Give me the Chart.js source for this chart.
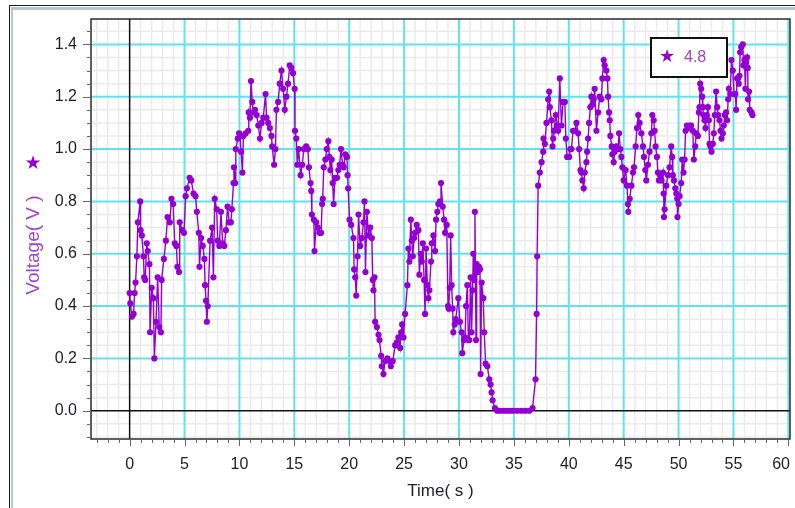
<!DOCTYPE html>
<html>
<head>
<meta charset="utf-8">
<title>Voltage vs Time</title>
<script src="https://cdn.jsdelivr.net/npm/chart.js@4.4.1/dist/chart.umd.min.js"></script>
<style>
  html, body { margin: 0; padding: 0; background: #fff; }
  canvas { display: block; }
</style>
</head>
<body>
<canvas id="voltage-graph" width="795" height="508"></canvas>
<script>

// sample times (s)
const timeSeconds = [
  0.00, 0.06, 0.21, 0.36, 0.45, 0.54, 0.66, 0.75, 0.96, 1.00,
  1.11, 1.26, 1.32, 1.41, 1.56, 1.65, 1.80, 1.86, 2.01, 2.16,
  2.25, 2.40, 2.55, 2.70, 2.85, 2.91, 3.12, 3.30, 3.45, 3.66,
  3.81, 3.96, 4.11, 4.26, 4.35, 4.50, 4.56, 4.80, 4.95, 5.10,
  5.22, 5.46, 5.61, 5.82, 6.00, 6.12, 6.30, 6.36, 6.51, 6.66,
  6.81, 6.87, 6.96, 7.03, 7.12, 7.33, 7.51, 7.63, 7.75, 7.93,
  8.02, 8.17, 8.32, 8.47, 8.62, 8.77, 8.92, 9.07, 9.22, 9.31,
  9.46, 9.50, 9.61, 9.67, 9.85, 9.97, 10.06, 10.15, 10.27, 10.36,
  10.57, 10.81, 10.85, 10.96, 11.05, 11.17, 11.27, 11.42, 11.57, 11.72,
  11.87, 12.02, 12.17, 12.38, 12.47, 12.62, 12.77, 12.92, 12.98, 13.16,
  13.28, 13.37, 13.52, 13.67, 13.83, 13.98, 14.13, 14.28, 14.43, 14.58,
  14.73, 14.88, 15.03, 15.06, 15.18, 15.27, 15.39, 15.57, 15.72, 15.87,
  16.08, 16.23, 16.33, 16.48, 16.54, 16.60, 16.78, 16.84, 16.99, 17.14,
  17.29, 17.44, 17.53, 17.59, 17.68, 17.83, 17.95, 18.10, 18.19, 18.28,
  18.40, 18.49, 18.58, 18.70, 18.89, 19.01, 19.13, 19.25, 19.40, 19.49,
  19.64, 19.79, 19.85, 19.90, 20.03, 20.18, 20.39, 20.45, 20.55, 20.64,
  20.76, 20.85, 21.00, 21.15, 21.30, 21.39, 21.48, 21.61, 21.76, 21.91,
  22.06, 22.15, 22.21, 22.30, 22.36, 22.52, 22.67, 22.76, 22.91, 22.97,
  23.12, 23.27, 23.48, 23.67, 23.79, 23.97, 24.18, 24.33, 24.48, 24.64,
  24.73, 24.82, 24.94, 25.09, 25.30, 25.39, 25.48, 25.61, 25.70, 25.79,
  25.91, 26.00, 26.15, 26.30, 26.39, 26.52, 26.61, 26.70, 26.82, 26.91,
  27.00, 27.12, 27.21, 27.30, 27.45, 27.52, 27.67, 27.82, 27.91, 28.03,
  28.12, 28.27, 28.36, 28.52, 28.64, 28.73, 28.88, 29.00, 29.06, 29.15,
  29.24, 29.33, 29.42, 29.48, 29.61, 29.70, 29.94, 30.09, 30.24, 30.30,
  30.45, 30.55, 30.64, 30.76, 30.85, 30.94, 31.06, 31.15, 31.24, 31.30,
  31.39, 31.45, 31.55, 31.61, 31.70, 31.82, 31.91, 31.97, 32.06, 32.21,
  32.30, 32.42, 32.58, 32.76, 32.88, 32.97, 33.06, 33.27, 33.48, 33.73,
  34.03, 34.33, 34.64, 34.94, 35.30, 35.67, 36.03, 36.40, 36.70, 36.97,
  37.07, 37.12, 37.21, 37.36, 37.52, 37.67, 37.70, 37.82, 37.97, 38.12,
  38.21, 38.27, 38.42, 38.52, 38.58, 38.64, 38.82, 38.94, 39.03, 39.18,
  39.33, 39.48, 39.64, 39.73, 39.85, 40.03, 40.15, 40.24, 40.39, 40.55,
  40.70, 40.85, 40.94, 41.06, 41.15, 41.24, 41.36, 41.45, 41.61, 41.67,
  41.76, 41.85, 41.97, 42.06, 42.15, 42.27, 42.36, 42.52, 42.67, 42.82,
  42.97, 43.06, 43.18, 43.27, 43.42, 43.52, 43.58, 43.67, 43.73, 43.79,
  43.91, 43.97, 44.09, 44.18, 44.33, 44.48, 44.58, 44.70, 44.79, 44.88,
  45.00, 45.18, 45.30, 45.39, 45.42, 45.55, 45.70, 45.85, 45.94, 46.09,
  46.21, 46.33, 46.45, 46.61, 46.76, 46.85, 46.97, 47.06, 47.21, 47.36,
  47.52, 47.61, 47.73, 47.82, 47.91, 48.03, 48.12, 48.21, 48.33, 48.45,
  48.58, 48.64, 48.67, 48.73, 48.88, 49.03, 49.18, 49.33, 49.42, 49.48,
  49.58, 49.70, 49.79, 49.88, 49.90, 50.00, 50.09, 50.24, 50.33, 50.45,
  50.55, 50.64, 50.76, 50.91, 51.00, 51.15, 51.30, 51.39, 51.52, 51.61,
  51.76, 51.85, 51.91, 51.97, 52.06, 52.15, 52.21, 52.27, 52.36, 52.45,
  52.58, 52.67, 52.76, 52.82, 52.91, 53.00, 53.12, 53.21, 53.30, 53.42,
  53.52, 53.61, 53.73, 53.82, 53.91, 54.03, 54.12, 54.21, 54.33, 54.42,
  54.52, 54.58, 54.70, 54.82, 54.94, 55.06, 55.18, 55.24, 55.33, 55.42,
  55.48, 55.55, 55.61, 55.70, 55.85, 55.91, 56.00, 56.09, 56.15, 56.24,
  56.30, 56.33, 56.42, 56.48, 56.64, 56.73
];

// voltage (V) at each sample
const voltageVolts = [
  0.45, 0.41, 0.36, 0.37, 0.45, 0.49, 0.59, 0.72, 0.80, 0.69,
  0.67, 0.59, 0.51, 0.50, 0.64, 0.61, 0.56, 0.30, 0.47, 0.43,
  0.20, 0.34, 0.51, 0.32, 0.30, 0.50, 0.58, 0.65, 0.74, 0.72,
  0.81, 0.79, 0.64, 0.63, 0.55, 0.53, 0.72, 0.69, 0.68, 0.82,
  0.85, 0.89, 0.88, 0.83, 0.82, 0.76, 0.68, 0.55, 0.66, 0.63,
  0.58, 0.48, 0.42, 0.34, 0.40, 0.65, 0.70, 0.51, 0.81, 0.77,
  0.65, 0.63, 0.76, 0.64, 0.63, 0.69, 0.78, 0.72, 0.72, 0.77,
  0.87, 0.93, 0.87, 1.00, 1.04, 1.06, 1.05, 0.99, 0.91, 1.05,
  1.06, 1.07, 1.14, 1.12, 1.26, 1.18, 1.14, 1.15, 1.13, 1.09,
  1.04, 1.10, 1.12, 1.21, 1.12, 1.10, 1.08, 1.05, 1.01, 0.94,
  1.00, 1.15, 1.18, 1.25, 1.30, 1.23, 1.15, 1.20, 1.25, 1.32,
  1.31, 1.29, 1.23, 1.07, 1.04, 0.94, 1.00, 0.90, 0.94, 1.00,
  1.01, 1.00, 0.93, 0.87, 0.84, 0.75, 0.73, 0.61, 0.72, 0.70,
  0.68, 0.68, 0.79, 0.81, 0.93, 0.96, 1.00, 1.03, 0.97, 0.92,
  0.96, 0.87, 0.79, 0.89, 0.89, 0.92, 0.94, 1.00, 0.94, 0.93,
  0.98, 0.97, 0.90, 0.85, 0.73, 0.71, 0.66, 0.54, 0.51, 0.44,
  0.59, 0.75, 0.63, 0.66, 0.72, 0.80, 0.53, 0.76, 0.67, 0.70,
  0.66, 0.50, 0.46, 0.51, 0.34, 0.32, 0.29, 0.27, 0.21, 0.17,
  0.14, 0.19, 0.20, 0.19, 0.17, 0.19, 0.25, 0.26, 0.28, 0.24,
  0.30, 0.33, 0.28, 0.37, 0.48, 0.62, 0.57, 0.73, 0.65, 0.59,
  0.66, 0.68, 0.71, 0.69, 0.52, 0.60, 0.57, 0.64, 0.50, 0.37,
  0.62, 0.48, 0.43, 0.46, 0.57, 0.64, 0.67, 0.61, 0.73, 0.76,
  0.79, 0.80, 0.87, 0.78, 0.73, 0.68, 0.71, 0.40, 0.39, 0.47,
  0.67, 0.48, 0.39, 0.30, 0.33, 0.35, 0.43, 0.34, 0.30, 0.22,
  0.27, 0.28, 0.40, 0.48, 0.27, 0.27, 0.51, 0.30, 0.46, 0.60,
  0.50, 0.76, 0.27, 0.56, 0.53, 0.55, 0.54, 0.14, 0.49, 0.43,
  0.30, 0.18, 0.17, 0.12, 0.10, 0.07, 0.04, 0.01, 0.00, 0.00,
  0.00, 0.00, 0.00, 0.00, 0.00, 0.00, 0.00, 0.00, 0.01, 0.12,
  0.37, 0.59, 0.86, 0.91, 0.95, 0.99, 1.04, 1.02, 1.10, 1.19,
  1.22, 1.16, 1.11, 1.01, 1.04, 1.07, 1.13, 1.09, 1.07, 1.27,
  1.09, 1.18, 1.18, 1.04, 0.97, 0.97, 1.00, 1.00, 1.07, 1.07,
  1.10, 1.06, 1.00, 0.92, 0.91, 0.88, 0.85, 0.91, 0.95, 0.99,
  1.04, 1.10, 1.16, 1.20, 1.17, 1.19, 1.23, 1.07, 1.14, 1.20,
  1.19, 1.27, 1.34, 1.32, 1.30, 1.27, 1.20, 1.14, 1.11, 1.05,
  1.01, 0.98, 0.95, 0.99, 1.01, 1.00, 1.06, 1.00, 0.97, 0.93,
  0.88, 0.92, 0.86, 0.79, 0.76, 0.81, 0.86, 0.91, 0.93, 1.01,
  1.08, 1.13, 1.10, 1.06, 1.01, 0.97, 0.92, 0.88, 0.94, 0.99,
  1.06, 1.13, 1.11, 1.07, 1.01, 0.97, 0.91, 0.88, 0.90, 0.88,
  0.91, 0.83, 0.74, 0.77, 0.86, 0.90, 0.93, 1.01, 0.97, 0.90,
  0.88, 0.85, 0.83, 0.81, 0.74, 0.79, 0.82, 0.87, 0.96, 0.91,
  0.96, 1.07, 1.09, 1.08, 1.09, 1.09, 1.07, 0.96, 1.01, 1.06,
  1.05, 1.14, 1.16, 1.25, 1.23, 1.20, 1.16, 1.13, 1.11, 1.08,
  1.13, 1.16, 1.11, 1.02, 1.01, 0.99, 1.02, 1.06, 1.13, 1.22,
  1.16, 1.13, 1.11, 1.07, 1.04, 1.06, 1.09, 1.13, 1.14, 1.11,
  1.19, 1.23, 1.21, 1.34, 1.30, 1.21, 1.21, 1.15, 1.27, 1.27,
  1.25, 1.28, 1.37, 1.39, 1.40, 1.32, 1.34, 1.23, 1.33, 1.35,
  1.31, 1.19, 1.22, 1.15, 1.14, 1.13
];

const seriesLabel = '4.8';
const xTitle = 'Time( s )';
const yTitle = 'Voltage( V )';
const xRange = [-3.52, 60.15];
const yRange = [-0.108, 1.497];

const purple = '#9400d3';
const titlePurple = '#a13fd6';
const cyan = '#62e3ec';
const minorGrey = '#ebebeb';
const labelInk = '#1c1c2a';
const sans = '"Liberation Sans", Arial, sans-serif';

const isZero = v => Math.abs(v) < 1e-9;
const isMajorX = v => Math.round(v) % 5 === 0;
const isMajorY = v => Math.round(v * 100) % 20 === 0;

const points = timeSeconds.map((t, i) => ({ x: t, y: voltageVolts[i] }));


const decor = {
  id: 'decor',

  beforeDraw(chart) {
    const ctx = chart.ctx;
    ctx.save();
    ctx.fillStyle = '#fff';
    ctx.fillRect(0, 0, chart.width, chart.height);
    // window edge, left and top
    ctx.fillStyle = '#1a1a1a';
    ctx.fillRect(9, 5, 1, chart.height - 5);
    ctx.fillRect(9, 5, chart.width - 9, 1);
    ctx.fillStyle = '#b9c4cf';
    ctx.fillRect(11, 7, 2, chart.height - 7);
    ctx.fillRect(11, 7, chart.width - 11, 3);
    ctx.restore();
  },

  beforeDatasetsDraw(chart) {
    const { ctx, chartArea: a, scales: { x, y } } = chart;
    ctx.save();
    ctx.beginPath();
    ctx.rect(a.left, a.top, a.right - a.left, a.bottom - a.top);
    ctx.clip();

    const vLine = (v, colour, w) => {
      const px = x.getPixelForValue(v);
      ctx.strokeStyle = colour; ctx.lineWidth = w;
      ctx.beginPath(); ctx.moveTo(px, a.top); ctx.lineTo(px, a.bottom); ctx.stroke();
    };
    const hLine = (v, colour, w) => {
      const py = y.getPixelForValue(v);
      ctx.strokeStyle = colour; ctx.lineWidth = w;
      ctx.beginPath(); ctx.moveTo(a.left, py); ctx.lineTo(a.right, py); ctx.stroke();
    };

    // minor grid, then cyan major grid, then the zero axes
    x.ticks.forEach(t => { if (!isMajorX(t.value)) vLine(t.value, minorGrey, 1.5); });
    y.ticks.forEach(t => { if (!isMajorY(t.value)) hLine(t.value, minorGrey, 1.5); });
    x.ticks.forEach(t => { if (isMajorX(t.value) && !isZero(t.value)) vLine(t.value, cyan, 2); });
    y.ticks.forEach(t => { if (isMajorY(t.value) && !isZero(t.value)) hLine(t.value, cyan, 2); });
    vLine(0, '#111', 1.5);
    hLine(0, '#111', 1.5);
    ctx.restore();
  },

  afterDraw(chart) {
    const { ctx, chartArea: a, scales: { x, y } } = chart;
    ctx.save();

    // plot frame
    ctx.strokeStyle = '#2b2b2b';
    ctx.lineWidth = 1.5;
    ctx.strokeRect(a.left, a.top, a.right - a.left, a.bottom - a.top);

    // tick marks
    ctx.strokeStyle = '#666';
    ctx.lineWidth = 1;
    ctx.beginPath();
    y.ticks.forEach(t => {
      const py = Math.round(y.getPixelForValue(t.value)) + 0.5;
      const len = isMajorY(t.value) ? 8 : 4;
      ctx.moveTo(a.left - len, py); ctx.lineTo(a.left, py);
    });
    x.ticks.forEach(t => {
      const px = Math.round(x.getPixelForValue(t.value)) + 0.5;
      const len = isMajorX(t.value) ? 7 : 4;
      ctx.moveTo(px, a.bottom); ctx.lineTo(px, a.bottom + len);
    });
    ctx.stroke();

    // x tick labels, last one kept inside the frame
    ctx.font = '16px ' + sans;
    ctx.fillStyle = labelInk;
    ctx.textAlign = 'center';
    ctx.textBaseline = 'middle';
    x.ticks.forEach(t => {
      if (!t.label) return;
      const w = ctx.measureText(t.label).width;
      const px = Math.min(x.getPixelForValue(t.value), a.right - w / 2);
      ctx.fillText(t.label, px, 465);
    });

    // axis titles
    ctx.font = '17px ' + sans;
    ctx.fillText(xTitle, (a.left + a.right) / 2, 491);

    ctx.save();
    ctx.translate(34, 245);
    ctx.rotate(-Math.PI / 2);
    ctx.font = '19px ' + sans;
    ctx.fillStyle = titlePurple;
    ctx.fillText(yTitle, 0, 0);
    ctx.restore();

    ctx.font = '19px "DejaVu Sans", sans-serif';
    ctx.fillStyle = purple;
    ctx.fillText('\u2605', 33, 164);

    // legend box
    ctx.fillStyle = '#fff';
    ctx.fillRect(651, 38, 76, 39);
    ctx.strokeStyle = '#111';
    ctx.lineWidth = 2;
    ctx.strokeRect(651, 38, 76, 39);
    ctx.fillStyle = purple;
    ctx.font = '18px "DejaVu Sans", sans-serif';
    ctx.fillText('\u2605', 667, 57);
    ctx.textAlign = 'left';
    ctx.font = '16px ' + sans;
    ctx.fillStyle = titlePurple;
    ctx.fillText(chart.data.datasets[0].label, 684, 58);

    ctx.restore();
  }
};


const voltageChart = new Chart(document.querySelector('#voltage-graph'), {
  type: 'line',
  data: {
    datasets: [{
      label: seriesLabel,
      data: points,
      borderColor: purple,
      backgroundColor: purple,
      borderWidth: 1.4,
      pointRadius: 3.1,
      pointBorderWidth: 0,
      pointBackgroundColor: purple,
      tension: 0
    }]
  },
  options: {
    responsive: false,
    animation: false,
    devicePixelRatio: 1,
    layout: { padding: { top: 19, right: 5, left: 0, bottom: 0 } },
    plugins: {
      legend: { display: false },
      tooltip: { enabled: false }
    },
    scales: {
      x: {
        type: 'linear',
        min: xRange[0],
        max: xRange[1],
        afterFit: s => { s.height = 69; s.paddingLeft = 0; s.paddingRight = 0; },
        grid: { display: false, drawTicks: false },
        border: { display: false },
        ticks: {
          display: false,
          stepSize: 1,
          includeBounds: false,
          autoSkip: false,
          callback: v => isMajorX(v) ? String(Math.round(v)) : ''
        }
      },
      y: {
        min: yRange[0],
        max: yRange[1],
        afterFit: s => { s.width = 91; s.paddingTop = 0; s.paddingBottom = 0; },
        grid: { display: false, drawTicks: false },
        border: { display: false },
        ticks: {
          stepSize: 0.05,
          includeBounds: false,
          autoSkip: false,
          padding: 14,
          color: labelInk,
          font: { family: sans, size: 16 },
          callback: v => isMajorY(v) ? v.toFixed(1) : ''
        }
      }
    }
  },
  plugins: [decor]
});

</script>
</body>
</html>
